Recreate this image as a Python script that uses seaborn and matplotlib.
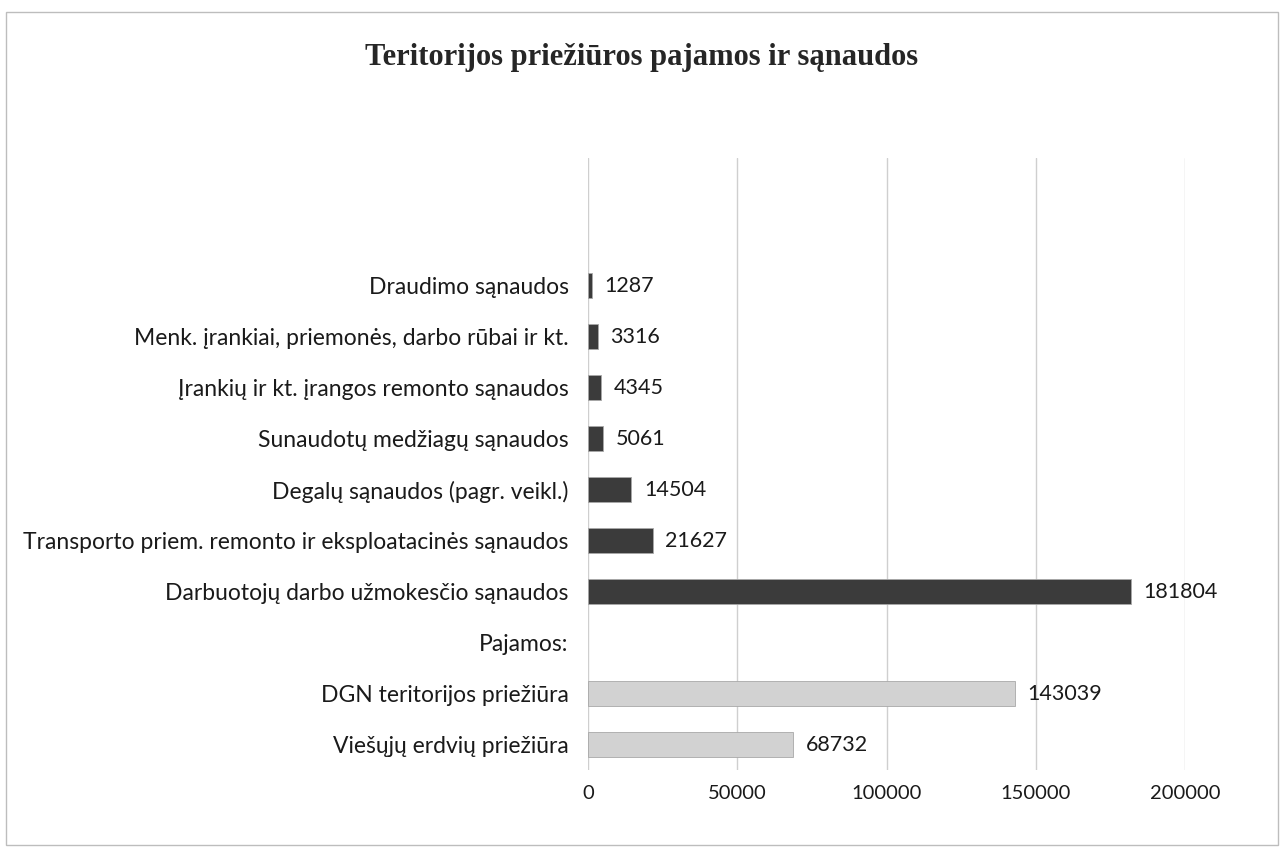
import numpy as np
import pandas as pd
import matplotlib
matplotlib.use('Agg')
import matplotlib.pyplot as plt
import seaborn as sns
from matplotlib.patches import Rectangle

# Chart data (top to bottom as shown)
row_order = [' ', '  ',
             'Draudimo sąnaudos',
             'Menk. įrankiai, priemonės, darbo rūbai ir kt.',
             'Įrankių ir kt. įrangos remonto sąnaudos',
             'Sunaudotų medžiagų sąnaudos',
             'Degalų sąnaudos (pagr. veikl.)',
             'Transporto priem. remonto ir eksploatacinės sąnaudos',
             'Darbuotojų darbo užmokesčio sąnaudos',
             'Pajamos:',
             'DGN teritorijos priežiūra',
             'Viešųjų erdvių priežiūra']

cost_names = ['Draudimo sąnaudos',
              'Menk. įrankiai, priemonės, darbo rūbai ir kt.',
              'Įrankių ir kt. įrangos remonto sąnaudos',
              'Sunaudotų medžiagų sąnaudos',
              'Degalų sąnaudos (pagr. veikl.)',
              'Transporto priem. remonto ir eksploatacinės sąnaudos',
              'Darbuotojų darbo užmokesčio sąnaudos']
cost_values = [1287, 3316, 4345, 5061, 14504, 21627, 181804]

income_names = ['DGN teritorijos priežiūra', 'Viešųjų erdvių priežiūra']
income_values = [143039, 68732]

x_ticks = [0, 50000, 100000, 150000, 200000]

df = pd.DataFrame({
    'name': cost_names + income_names,
    'value': cost_values + income_values,
    'group': ['sąnaudos'] * len(cost_names) + ['pajamos'] * len(income_names),
})

sns.set_style('white')
plt.rcParams['font.family'] = ['Lato', 'DejaVu Sans']

fig = plt.figure(figsize=(12.84, 8.57), dpi=100)
ax = fig.add_axes([0.458, 0.1015, 0.465, 0.714])

sns.barplot(data=df, x='value', y='name', hue='group', order=row_order,
            palette={'sąnaudos': '#3b3b3b', 'pajamos': '#d2d2d2'},
            dodge=False, width=0.48, legend=False, ax=ax,
            edgecolor='#a8a8a8', linewidth=0.6)

for c in ax.containers:
    labels = [f'{v:.0f}' if np.isfinite(v) else '' for v in c.datavalues]
    ax.bar_label(c, labels=labels, padding=9, fontsize=15.5, color='#1a1a1a')

ax.set_xlim(0, 200000)
ax.set_xticks(x_ticks)
ax.set_xticklabels([str(t) for t in x_ticks])
ax.set_xlabel('')
ax.set_ylabel('')
ax.grid(axis='x', color='#cfcfcf', linewidth=1)
ax.set_axisbelow(True)
for s in ax.spines.values():
    s.set_visible(False)
ax.tick_params(axis='both', length=0, colors='#1a1a1a')
ax.tick_params(axis='y', pad=14, labelsize=16.5)
ax.tick_params(axis='x', pad=11, labelsize=14.5)

fig.text(0.5, 1 - 58 / 857, 'Teritorijos priežiūros pajamos ir sąnaudos',
         ha='center', va='center', fontsize=22, fontweight='bold',
         family=['Liberation Serif', 'DejaVu Serif'])

fig.patches.append(Rectangle((6 / 1284, 12 / 857), 1272 / 1284, 833 / 857,
                             transform=fig.transFigure, fill=False,
                             edgecolor='#bdbdbd', linewidth=1))

fig.savefig('out.png', dpi=100, facecolor='white')
